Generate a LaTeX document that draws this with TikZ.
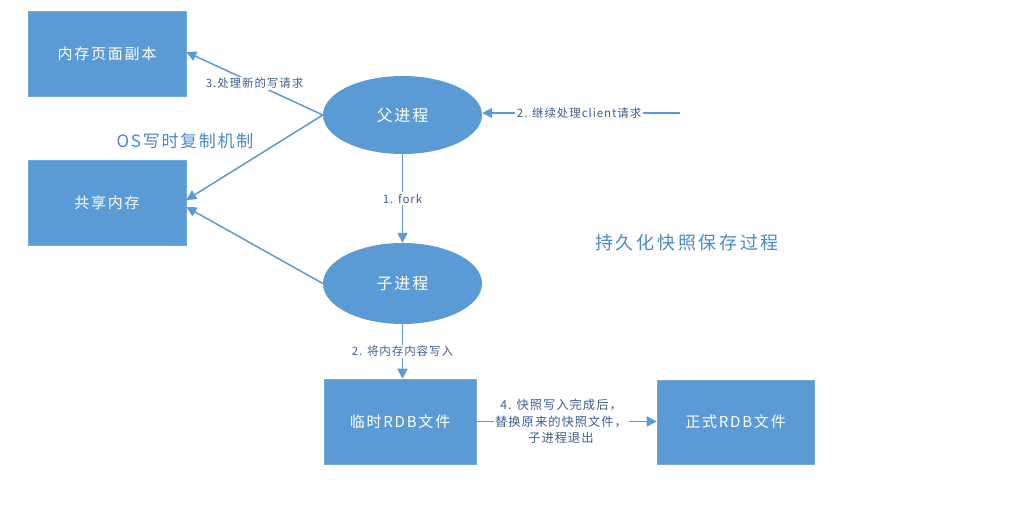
\documentclass[tikz,border=0pt]{standalone}
\usepackage{fontspec}
\setmainfont{Noto Sans CJK SC}
\newfontfamily\boxfont[LetterSpace=12]{Noto Sans CJK SC}
\newfontfamily\labfont[LetterSpace=8]{Noto Sans CJK SC}
\newfontfamily\titfont[LetterSpace=10]{Noto Sans CJK SC}
\newfontfamily\titbfont[LetterSpace=15]{Noto Sans CJK SC}
\usetikzlibrary{shapes.geometric,arrows.meta}
\definecolor{fillblue}{HTML}{5B9BD5}
\definecolor{lineblue}{HTML}{5B9BD5}
\definecolor{labblue}{HTML}{3F5F8E}
\definecolor{titblue}{HTML}{4A88CF}
\tikzset{
  boxnode/.style={rectangle, fill=fillblue, draw=fillblue!85!white, line width=0.6pt, inner sep=0pt,
    text=white, font=\boxfont\fontsize{15}{18}\selectfont},
  procnode/.style={ellipse, fill=fillblue, inner sep=0pt, minimum width=159pt,
    text=white, font=\boxfont\fontsize{16}{19}\selectfont},
  conn/.style={draw=lineblue, line width=1.5pt, -{Triangle[length=10pt,width=10pt]}},
  lab/.style={fill=white, inner sep=1.5pt, text=labblue, font=\labfont\fontsize{11.5}{16.5}\selectfont, align=center},
  ttl/.style={text=titblue}
}
\begin{document}
\begin{tikzpicture}[x=1pt,y=-1pt]
\useasboundingbox (0,0) rectangle (1023,504);
\fill[white] (0,0) rectangle (1023,504);
% boxes
\node[boxnode, minimum width=158pt, minimum height=85pt] (m1) at (107,53.5) {内存页面副本};
\node[boxnode, minimum width=158pt, minimum height=85pt] (m2) at (107,202.5) {共享内存};
\node[boxnode, minimum width=152pt, minimum height=85pt] (tmp) at (400,421.5) {临时RDB文件};
\node[boxnode, minimum width=157pt, minimum height=84pt] (rdb) at (735.5,422) {正式RDB文件};
% processes
\node[procnode, minimum height=78pt] (p) at (402.5,115) {父进程};
\node[procnode, minimum height=81pt] (c) at (402.5,283.5) {子进程};
% titles
\node[ttl, font=\titfont\fontsize{17}{20}\selectfont] (t1) at (185,141) {OS写时复制机制};
\node[ttl, font=\titbfont\fontsize{18}{21}\selectfont] (t2) at (687,243) {持久化快照保存过程};
% external start of client requests
\coordinate (ext) at (680,113);
% connectors
\draw[conn] (p.west) -- node[lab] {3.处理新的写请求} ([yshift=1.5pt]m1.east);
\draw[conn] (p.west) -- ([yshift=2.5pt]m2.east);
\draw[conn] (c.west) -- ([yshift=-4.5pt]m2.east);
\draw[conn] (ext) -- node[lab, pos=0.51] {2. 继续处理client请求} (p.east |- ext);
\draw[conn] (p.south) -- node[lab, pos=0.5] {1. fork} (c.north);
\draw[conn] (c.south) -- node[lab, pos=0.5] {2. 将内存内容写入} (tmp.north -| c.south);
\draw[conn] (tmp.east) -- node[lab, pos=0.47, font=\labfont\fontsize{12.3}{16.5}\selectfont] {4. 快照写入完成后，\\替换原来的快照文件，\\子进程退出} (rdb.west |- tmp.east);
\end{tikzpicture}
\end{document}
